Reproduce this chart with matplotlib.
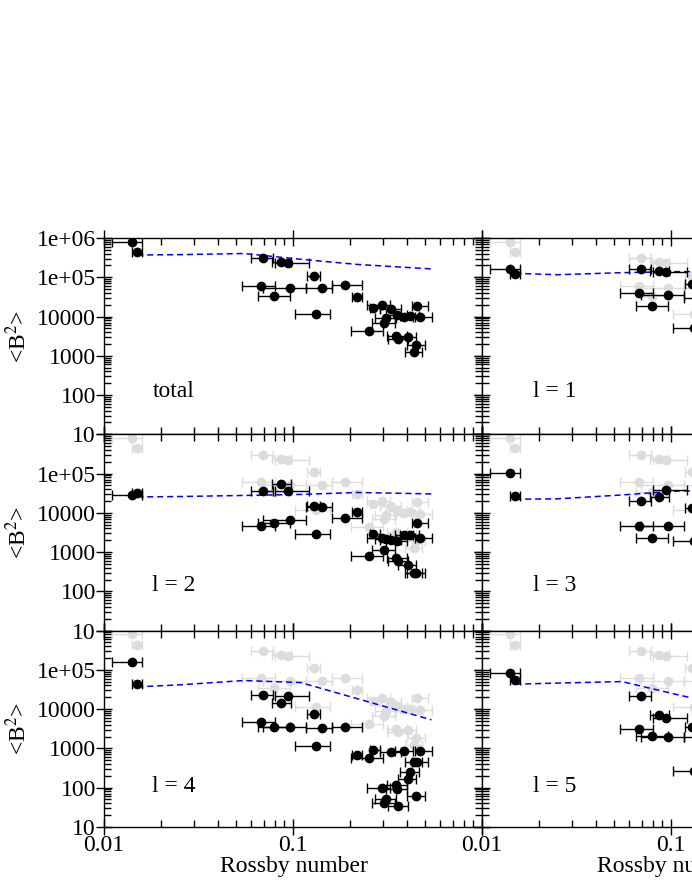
#!/usr/bin/env python3
"""<B^2> against Rossby number: total field and l = 1..5 components."""

import numpy as np
import matplotlib
matplotlib.use("Agg")
import matplotlib.pyplot as plt
from matplotlib.ticker import FixedLocator, LogLocator, FuncFormatter, NullFormatter

nan = np.nan

# Rossby number of each star, with ends of the x error bar
ROSSBY = [0.0140, 0.0149, 0.0677, 0.0697, 0.0796, 0.0864, 0.0944, 0.0964,
          0.1296, 0.1319, 0.1419, 0.1884, 0.219, 0.266, 0.297, 0.329,
          0.354, 0.3105, 0.303, 0.387, 0.416, 0.451, 0.470, 0.2515,
          0.351, 0.361, 0.4045, 0.4475, 0.4366]
RO_LO = [0.0110, 0.0140, 0.0539, 0.0600, 0.0656, 0.0771, 0.0805, 0.0697,
         0.1185, 0.1025, 0.1170, 0.1600, 0.2063, 0.2540, 0.2460, 0.2890,
         0.3100, 0.2700, 0.2620, 0.3450, 0.3700, 0.4260, 0.4430, 0.2030,
         0.3150, 0.3180, 0.3600, 0.4000, 0.3900]
RO_HI = [0.0158, 0.0158, 0.0802, 0.0782, 0.0964, 0.0976, 0.1215, 0.1170,
         0.1385, 0.1577, 0.1600, 0.2326, 0.2326, 0.2870, 0.3260, 0.3750,
         0.4000, 0.3500, 0.3450, 0.4300, 0.4650, 0.5210, 0.5420, 0.3000,
         0.4000, 0.4040, 0.4500, 0.5000, 0.4800]

# <B^2> per star (nan = outside the visible part of the figure)
B2_TOTAL = [8.0e5, 4.4e5, 6.1e4, 3.04e5, 3.4e4, 2.41e5, 2.27e5, 5.25e4,
            1.10e5, 1.16e4, 5.25e4, 6.2e4, 3.06e4, 1.63e4, 1.97e4, 1.53e4,
            1.10e4, 9.06e3, 6.76e3, 9.93e3, 1.03e4, 1.89e4, 9.6e3, 4.3e3,
            3.2e3, 2.63e3, 2.97e3, 1.89e3, 1.24e3]
B2_L1 = [1.6e5, 1.19e5, 3.9e4, 1.6e5, 1.86e4, 1.47e5, 1.34e5, 3.55e4,
         6.6e4, 5.2e3, 3.0e4] + [nan] * 18
B2_L2 = [2.85e4, 3.27e4, 4.64e3, 3.6e4, 5.6e3, 5.43e4, 3.67e4, 6.6e3,
         1.5e4, 2.85e3, 1.44e4, 7.55e3, 1.03e4, 2.9e3, 2.25e3, 2.04e3,
         1.93e3, 2.13e3, 1.14e3, 2.74e3, 2.74e3, 5.6e3, 2.26e3, 800,
         700, 608, 472, 300, 290]
B2_L3 = [1.02e5, 2.69e4, 4.73e3, 2.01e4, 2.26e3, 2.58e4, 3.83e4, 4.73e3,
         1.31e4, 1.96e3, nan] + [nan] * 18
B2_L4 = [1.57e5, 4.4e4, 4.83e3, 2.31e4, 3.6e3, 1.42e4, 2.18e4, 3.6e3,
         7.46e3, 1.16e3, 3.28e3, 3.49e3, 660, 920, 98, 805,
         92, 51, 40.5, 834, 244, 437, 834, 566,
         119, 34.7, 165, 60, 437]
B2_L5 = [8.2e4, 5.57e4, 3.2e3, 2.2e4, 2.1e3, 7.1e3, 5.8e3, 1.9e3,
         3.6e3, 258, 1.9e3] + [nan] * 18

# model curves (blue dashed)
MODEL_RO = [0.015, 0.025, 0.055, 0.11, 0.22, 0.54]
MODEL_TOTAL = [3.69e5, 3.76e5, 4.03e5, 2.87e5, 2.12e5, 1.63e5]
MODEL_L1 = [1.26e5, 1.16e5, 1.31e5, 1.39e5, 1.40e5, nan]
MODEL_L2 = [2.54e4, 2.60e4, 2.77e4, 2.94e4, 3.30e4, 3.03e4]
MODEL_L3 = [2.22e4, 2.27e4, 2.85e4, 3.60e4, 3.60e4, nan]
MODEL_L4 = [3.69e4, 4.15e4, 5.35e4, 4.75e4, 1.83e4, 5.35e3]
MODEL_L5 = [4.33e4, 4.60e4, 5.03e4, 2.29e4, 1.06e4, nan]

PANELS = [("total", B2_TOTAL, MODEL_TOTAL, 0, 0),
          ("l = 1", B2_L1, MODEL_L1, 0, 1),
          ("l = 2", B2_L2, MODEL_L2, 1, 0),
          ("l = 3", B2_L3, MODEL_L3, 1, 1),
          ("l = 4", B2_L4, MODEL_L4, 2, 0),
          ("l = 5", B2_L5, MODEL_L5, 2, 1)]

YLABELS = {1e6: "1e+06", 1e5: "1e+05", 1e4: "10000", 1e3: "1000",
           1e2: "100", 1e1: "10"}
XLABELS = {0.01: "0.01", 0.1: "0.1"}

GRAY = "#dcdcdc"
FS = 17

plt.rcParams["font.family"] = ["Liberation Serif", "DejaVu Serif"]
plt.rcParams["mathtext.fontset"] = "stix"


def main():
    fig = plt.figure(figsize=(6.92, 8.96), dpi=100)
    W, H = 692.0, 896.0
    col_x = [104 / W, 482 / W]
    aw = 378 / W
    row_top = [238.0, 434.3, 630.6]
    ah = 196.3 / H
    text_y = [0.19, 0.20, 0.18]

    ro = np.array(ROSSBY)
    xerr = [ro - np.array(RO_LO), np.array(RO_HI) - ro]

    for name, vals, model, row, col in PANELS:
        ax = fig.add_axes([col_x[col], 1 - (row_top[row] + 196.3) / H, aw, ah])
        ax.set_xscale("log")
        ax.set_yscale("log")

        if name != "total":
            ax.errorbar(ROSSBY, B2_TOTAL, xerr=xerr, fmt="o", color=GRAY,
                        ms=6, elinewidth=1.0, capsize=3.6, capthick=1.0,
                        zorder=1)
        ax.plot(MODEL_RO, model, color="#0000ff", lw=1.1,
                ls=(0, (4, 2.5)), zorder=2)
        ax.errorbar(ROSSBY, vals, xerr=xerr, fmt="o", color="black",
                    ms=6, elinewidth=1.0, capsize=3.6, capthick=1.0,
                    zorder=3)

        ax.set_xlim(0.01, 1)
        ax.set_ylim(10, 1e6)

        ax.xaxis.set_major_locator(FixedLocator([0.01, 0.1, 1]))
        ax.xaxis.set_minor_locator(LogLocator(base=10, subs=np.arange(2, 10)))
        ax.yaxis.set_major_locator(FixedLocator([1e1, 1e2, 1e3, 1e4, 1e5, 1e6]))
        ax.yaxis.set_minor_locator(LogLocator(base=10, subs=np.arange(2, 10),
                                              numticks=20))
        ax.xaxis.set_minor_formatter(NullFormatter())
        ax.yaxis.set_minor_formatter(NullFormatter())

        if row == 2:
            ax.xaxis.set_major_formatter(
                FuncFormatter(lambda v, p: XLABELS.get(round(v, 3), "")))
        else:
            ax.xaxis.set_major_formatter(NullFormatter())
        if col == 0:
            top = 1e6 if row == 0 else 1e5
            ax.yaxis.set_major_formatter(FuncFormatter(
                lambda v, p, top=top: YLABELS.get(v, "") if v <= top * 1.01 else ""))
        else:
            ax.yaxis.set_major_formatter(NullFormatter())

        ax.tick_params(which="major", direction="inout", length=11.5, width=1.0,
                       top=True, right=True, labelsize=FS)
        ax.tick_params(axis="x", which="major", pad=0)
        ax.tick_params(axis="y", which="major", pad=0)
        ax.tick_params(which="minor", direction="in", length=5, width=1.0,
                       top=True, right=True)
        for sp in ax.spines.values():
            sp.set_linewidth(1.0)

        ax.text(0.128 if col == 0 else 0.134, text_y[row], name,
                transform=ax.transAxes, fontsize=FS, ha="left", va="baseline")

    # axis titles
    for row in range(3):
        yc = 1 - (row_top[row] + 98) / H
        fig.text(18 / W, yc, "<B$^2$>", rotation=90, fontsize=FS,
                 ha="center", va="center")
    for xc in (293.5, 671.0):
        fig.text(xc / W, 1 - 872.3 / H, "Rossby number", fontsize=FS,
                 ha="center", va="baseline")

    fig.savefig("out.png", dpi=100)


if __name__ == "__main__":
    main()
